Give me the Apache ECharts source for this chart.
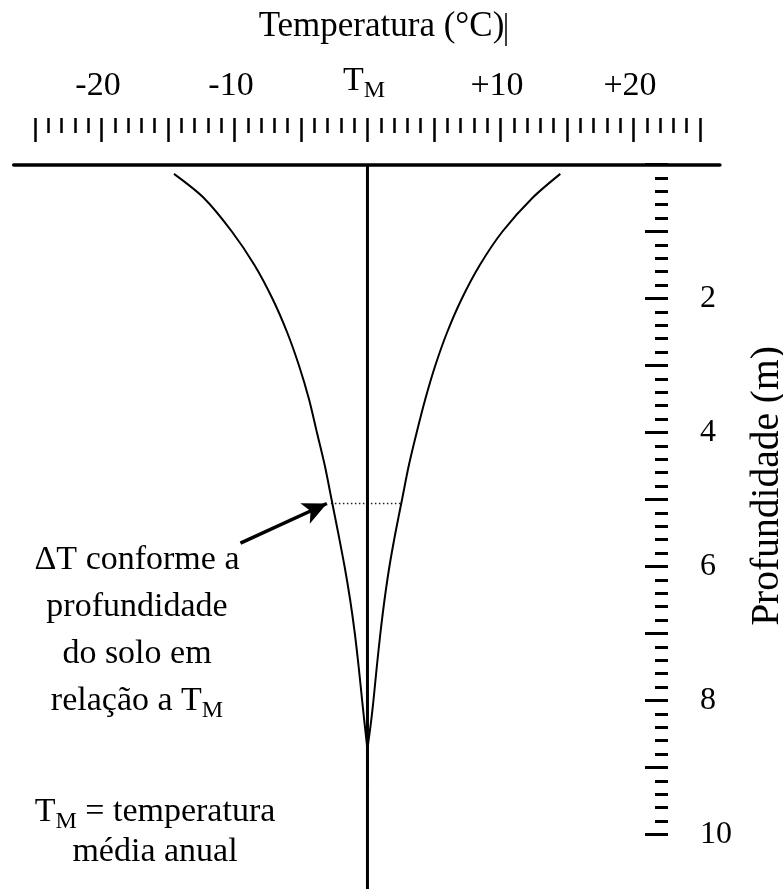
<!DOCTYPE html>
<html>
<head>
<meta charset="utf-8">
<script src="https://cdn.jsdelivr.net/npm/echarts@6/dist/echarts.min.js"></script>
<style>html,body{margin:0;padding:0;background:#fff}#c{width:783px;height:889px}</style>
</head>
<body>
<div id="c"></div>
<script>
const FONT = 'Liberation Serif, "Times New Roman", serif';

// Temperature scale (deviation from T_M, °C)
const tempTickValues = [-20, -10, 0, 10, 20];
const tempTickLabels = ['-20', '-10', 'TM', '+10', '+20'];
// Depth scale (m)
const depthTickValues = [2, 4, 6, 8, 10];
const depthTickLabels = ['2', '4', '6', '8', '10'];

// Left envelope (minimum temperatures) – depth (m) / deviation from T_M (°C)
const leftDepth = [0.14, 0.5, 1.0, 1.5, 2.0, 2.5, 3.0, 3.5, 4.0, 4.5, 5.0, 5.5, 6.0, 6.5, 7.0, 7.5, 8.0, 8.3, 8.5, 8.7, 9.3];
const leftTemp  = [-14.55, -12.3, -10.2, -8.5, -7.15, -6.05, -5.15, -4.4, -3.8, -3.2, -2.7, -2.2, -1.72, -1.3, -0.95, -0.66, -0.4, -0.24, -0.13, -0.03, 0];
// Right envelope (maximum temperatures)
const rightDepth = [0.14, 0.5, 1.0, 1.5, 2.0, 2.5, 3.0, 3.5, 4.0, 4.5, 5.0, 5.5, 6.0, 6.5, 7.0, 7.5, 8.0, 8.3, 8.5, 8.7, 9.3];
const rightTemp  = [14.5, 12.4, 10.15, 8.45, 7.1, 6.0, 5.1, 4.35, 3.7, 3.1, 2.6, 2.1, 1.65, 1.28, 0.97, 0.7, 0.45, 0.28, 0.15, 0.03, 0];
// Mean annual temperature line
const meanDepth = [0, 11];
const meanTemp = [0, 0];
// ΔT marker at a given depth
const deltaDepth = [5.06, 5.06];
const deltaTemp = [-2.75, 2.57];
// Arrow pointing at the ΔT marker
const arrowTemp = [-9.55, -3.05];
const arrowDepth = [5.65, 5.06];

const pairs = (xs, ys) => xs.map((x, i) => [x, ys[i]]);

const chart = echarts.init(document.getElementById('c'), null, {renderer: 'canvas'});

const black = '#000';
const tickLabel = (v) => {
  const i = tempTickValues.indexOf(v);
  if (i < 0) return '';
  const s = tempTickLabels[i];
  return s === 'TM' ? '{t|T}{s|M}' : s;
};

chart.setOption({
  animation: false,
  backgroundColor: '#fff',
  grid: [
    {left: 13.7, width: 706.2, top: 164.5, height: 737, outerBoundsMode: 'none', containLabel: false},
    {left: 35, width: 665, top: 118, height: 10, outerBoundsMode: 'none', containLabel: false},
    {left: 658, width: 10, top: 164.5, height: 670, outerBoundsMode: 'none', containLabel: false}
  ],
  xAxis: [
    {gridIndex: 0, type: 'value', min: -26.6, max: 26.5, position: 'top',
     axisLine: {show: true, onZero: false, lineStyle: {color: black, width: 3.5}},
     axisTick: {show: false}, axisLabel: {show: false}, splitLine: {show: false}},
    {gridIndex: 1, type: 'value', min: -25, max: 25, interval: 5, position: 'top',
     axisLine: {show: false, onZero: false},
     axisTick: {show: true, inside: true, length: 24, lineStyle: {color: black, width: 2.5}},
     minorTick: {show: true, splitNumber: 5, length: 15, lineStyle: {color: black, width: 2.5}},
     splitLine: {show: false}, minorSplitLine: {show: false},
     axisLabel: {show: true, margin: 15, color: black, fontSize: 34, fontFamily: FONT,
       padding: [0, 7, 0, 0],
       formatter: tickLabel,
       rich: {
         t: {fontSize: 34, fontFamily: FONT, color: black, lineHeight: 24, padding: [0, 0, 20, 0]},
         s: {fontSize: 24, fontFamily: FONT, color: black, lineHeight: 24, padding: [10, 0, 10, 0]}
       }}},
    {gridIndex: 2, type: 'value', show: false, min: 0, max: 1}
  ],
  yAxis: [
    {gridIndex: 0, type: 'value', inverse: true, min: 0, max: 11, show: false},
    {gridIndex: 1, type: 'value', show: false},
    {gridIndex: 2, type: 'value', inverse: true, min: 0, max: 10, interval: 1, position: 'right',
     axisLine: {show: false, onZero: false},
     axisTick: {show: true, inside: true, length: 23, lineStyle: {color: black, width: 3}},
     minorTick: {show: true, splitNumber: 5, length: 13, lineStyle: {color: black, width: 3}},
     splitLine: {show: false}, minorSplitLine: {show: false},
     axisLabel: {show: true, margin: 32, color: black, fontSize: 32, fontFamily: FONT, align: 'left',
       formatter: (v) => {
         const i = depthTickValues.indexOf(v);
         return i < 0 ? '' : depthTickLabels[i];
       }}}
  ],
  series: [
    {type: 'line', name: 'min', xAxisIndex: 0, yAxisIndex: 0, data: pairs(leftTemp, leftDepth),
     smooth: 0.3, showSymbol: false, symbol: 'none', silent: true,
     lineStyle: {color: black, width: 2}, z: 3},
    {type: 'line', name: 'max', xAxisIndex: 0, yAxisIndex: 0, data: pairs(rightTemp, rightDepth),
     smooth: 0.3, showSymbol: false, symbol: 'none', silent: true,
     lineStyle: {color: black, width: 2}, z: 3},
    {type: 'line', name: 'TM', xAxisIndex: 0, yAxisIndex: 0, data: pairs(meanTemp, meanDepth),
     showSymbol: false, symbol: 'none', silent: true,
     lineStyle: {color: black, width: 3}, z: 4},
    {type: 'line', name: 'dT', xAxisIndex: 0, yAxisIndex: 0, data: pairs(deltaTemp, deltaDepth),
     showSymbol: false, symbol: 'none', silent: true,
     lineStyle: {color: '#222', width: 1.5, type: [1.5, 2.5]}, z: 2,
     markLine: {
       silent: true, animation: false,
       symbol: ['none', 'arrow'], symbolSize: [17, 24],
       label: {show: false},
       lineStyle: {color: black, width: 3.5, type: 'solid'},
       emphasis: {disabled: true},
       data: [[{coord: [arrowTemp[0], arrowDepth[0]]}, {coord: [arrowTemp[1], arrowDepth[1]]}]]
     }}
  ],
  graphic: [
    {type: 'text', x: 381.5, y: 27, silent: true,
     style: {text: 'Temperatura (°C)', fontSize: 35, fontFamily: FONT, fill: black,
       align: 'center', verticalAlign: 'middle', textAlign: 'center', textVerticalAlign: 'middle'}},
    {type: 'line', silent: true, shape: {x1: 506, y1: 13, x2: 506, y2: 46}, style: {stroke: black, lineWidth: 1.5}},
    {type: 'text', x: 768, y: 486, rotation: Math.PI / 2, silent: true,
     style: {text: 'Profundidade (m)', fontSize: 39.5, fontFamily: FONT, fill: black,
       align: 'center', verticalAlign: 'middle', textAlign: 'center', textVerticalAlign: 'middle'}},
    {type: 'text', x: 137, y: 536.5, silent: true,
     style: {text: 'ΔT conforme a\nprofundidade\ndo solo em\nrelação a {t|T}{s|M}',
       fontSize: 34, fontFamily: FONT, fill: black, lineHeight: 47,
       align: 'center', verticalAlign: 'top', textAlign: 'center', textVerticalAlign: 'top',
       rich: {
         t: {fontSize: 34, fontFamily: FONT, fill: black, lineHeight: 47},
         s: {fontSize: 24, fontFamily: FONT, fill: black, lineHeight: 27, padding: [20, 0, 0, 0]}
       }}},
    {type: 'text', x: 155, y: 792, silent: true,
     style: {text: '{t|T}{s|M} = temperatura\nmédia anual',
       fontSize: 34, fontFamily: FONT, fill: black, lineHeight: 40,
       align: 'center', verticalAlign: 'top', textAlign: 'center', textVerticalAlign: 'top',
       rich: {
         t: {fontSize: 34, fontFamily: FONT, fill: black, lineHeight: 40},
         s: {fontSize: 24, fontFamily: FONT, fill: black, lineHeight: 20, padding: [20, 0, 0, 0]}
       }}}
  ]
});
</script>
</body>
</html>
